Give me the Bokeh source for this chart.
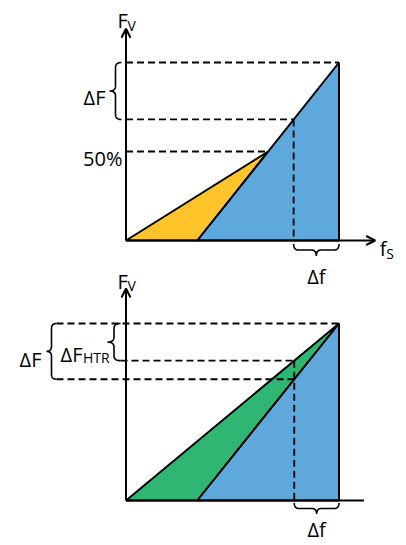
import numpy as np
from bokeh.plotting import figure
from bokeh.models import Range1d, Arrow, OpenHead
from bokeh.core.properties import value
from bokeh.embed import file_html
from bokeh.resources import INLINE

# ---------------- data ----------------
# Panel A (top): f_S in % of its maximum, F_V in %
a_yellow_x = [0, 66.75, 33.5]
a_yellow_y = [0, 50, 0]
a_blue_x = [33.5, 100, 100]
a_blue_y = [0, 100, 0]
a_levels = [100, 68, 50]          # top, lower ΔF bound, 50 %
a_level_ends = [100, 78.7, 66.75]  # where each dashed level meets the curve
a_df_x = [78.7, 100]               # Δf span
a_axis_end = [117, 119]            # x-axis end, y-axis end

# Panel B (bottom)
b_green_x = [0, 100, 33.5]
b_green_y = [0, 100, 0]
b_blue_x = [33.5, 100, 100]
b_blue_y = [0, 100, 0]
b_levels = [100, 79, 68.5]         # top, ΔF_HTR bound, ΔF bound
b_level_ends = [100, 79, 79]
b_df_x = [79, 100]
b_axis_end = [111.7, 119.8]

labels_a = ["F", "V", "ΔF", "50%", "f", "S", "Δf"]
labels_b = ["F", "V", "ΔF", "ΔF", "HTR", "Δf"]

# ---------------- layout ----------------
W, H = 406, 545
KX, X0 = 2.13, 125.5
KA, YA0 = 1.78, 305
KB, YB0 = 1.77, 45

YELLOW = "#FFC42A"
BLUE = "#5FA8DB"
GREEN = "#2EB672"
FONT = value("Open Sans")
DASH = "7 4"
BIG, SMALL = "20px", "14px"

p = figure(width=W, height=H, output_backend="svg", toolbar_location=None,
           x_range=Range1d(-X0 / KX, (W - X0) / KX),
           y_range=Range1d(-YA0 / KA, (H - YA0) / KA),
           x_axis_location=None, y_axis_location=None, min_border=0)
p.extra_y_ranges = {"b": Range1d(-YB0 / KB, (H - YB0) / KB)}
p.grid.visible = False
p.outline_line_color = None
p.background_fill_color = "white"
p.border_fill_color = "white"


def dx(px):
    return px / KX


def dya(px):
    return px / KA


def dyb(px):
    return px / KB


def brace_local(L, d, r=5.0, n=14):
    r = min(r, L / 4.0)
    t = np.linspace(0, 1, n)

    def q(p0, c, p1):
        u = (1 - t) ** 2 * p0[0] + 2 * (1 - t) * t * c[0] + t ** 2 * p1[0]
        v = (1 - t) ** 2 * p0[1] + 2 * (1 - t) * t * c[1] + t ** 2 * p1[1]
        return list(u), list(v)

    h = d / 2.0
    segs = [
        q((0, 0), (0, h), (r, h)),
        q((L / 2 - r, h), (L / 2, h), (L / 2, d)),
        q((L / 2, d), (L / 2, h), (L / 2 + r, h)),
        q((L - r, h), (L, h), (L, 0)),
    ]
    us, vs = [], []
    for s in segs:
        us += s[0]
        vs += s[1]
    return np.array(us), np.array(vs)


def vbrace(x_end, y_top, y_bot, d, ky, rname):
    L = (y_top - y_bot) * ky
    u, v = brace_local(L, d)
    p.line(x_end - v / KX, y_top - u / ky, line_color="black", line_width=1.6,
           y_range_name=rname)


def hbrace(x1, x2, off, d, ky, rname):
    L = (x2 - x1) * KX
    u, v = brace_local(L, d)
    p.line(x1 + u / KX, -(off + v) / ky, line_color="black", line_width=1.6,
           y_range_name=rname)


def txt(x, y, s, size, align, rname="default"):
    p.text(x=[x], y=[y], text=[s], text_font=FONT, text_font_size=size,
           text_align=align, text_baseline="alphabetic", text_color="black",
           y_range_name=rname)


# ================= Panel A =================
p.patch(a_yellow_x, a_yellow_y, fill_color=YELLOW, line_color="black", line_width=2)
p.patch(a_blue_x, a_blue_y, fill_color=BLUE, line_color="black", line_width=2)
for lvl, xe in zip(a_levels, a_level_ends):
    p.line([0, xe], [lvl, lvl], line_color="black", line_width=1.8, line_dash=DASH)
p.line([a_df_x[0], a_df_x[0]], [a_levels[1], 0], line_color="black", line_width=1.8,
       line_dash=DASH)
p.add_layout(Arrow(end=OpenHead(size=9, line_width=2), x_start=0, y_start=0,
                   x_end=0, y_end=a_axis_end[1], line_width=2))
p.add_layout(Arrow(end=OpenHead(size=9, line_width=2), x_start=0, y_start=0,
                   x_end=a_axis_end[0], y_end=0, line_width=2))

vbrace(dx(-4.5), a_levels[0], a_levels[1], 12, KA, "default")
hbrace(a_df_x[0], a_df_x[1], 3.5, 12, KA, "default")

txt(dx(-8.5), a_axis_end[1] + dya(8), labels_a[0], BIG, "left")
txt(dx(1.5), a_axis_end[1] + dya(3), labels_a[1], SMALL, "left")
txt(dx(-20.5), (a_levels[0] + a_levels[1]) / 2 - dya(7), labels_a[2], BIG, "right")
txt(dx(-3.5), a_levels[2] - dya(7), labels_a[3], BIG, "right")
txt(a_axis_end[0] + dx(4.5), -dya(8), labels_a[4], BIG, "left")
txt(a_axis_end[0] + dx(11), -dya(12.5), labels_a[5], SMALL, "left")
txt(sum(a_df_x) / 2, -dya(36), labels_a[6], BIG, "center")

# ================= Panel B =================
R = "b"
p.patch(b_green_x, b_green_y, fill_color=GREEN, line_color="black", line_width=2,
        y_range_name=R)
p.patch(b_blue_x, b_blue_y, fill_color=BLUE, line_color="black", line_width=2,
        y_range_name=R)
b_outer_end = dx(-69.5)
b_htr_end = dx(-5.5)
b_level_starts = [b_outer_end, b_htr_end, b_outer_end]
for lvl, xs, xe in zip(b_levels, b_level_starts, b_level_ends):
    p.line([xs, xe], [lvl, lvl], line_color="black", line_width=1.8, line_dash=DASH,
           y_range_name=R)
p.line([b_df_x[0], b_df_x[0]], [b_levels[1], 0], line_color="black", line_width=1.8,
       line_dash=DASH, y_range_name=R)
p.add_layout(Arrow(end=OpenHead(size=9, line_width=2), x_start=0, y_start=0,
                   x_end=0, y_end=b_axis_end[1], line_width=2, y_range_name=R))
p.line([0, b_axis_end[0]], [0, 0], line_color="black", line_width=2, y_range_name=R)

vbrace(b_outer_end, b_levels[0], b_levels[2], 10, KB, R)
vbrace(b_htr_end, b_levels[0], b_levels[1], 13, KB, R)
hbrace(b_df_x[0], b_df_x[1], 2.5, 11, KB, R)

txt(dx(-8.5), b_axis_end[1] + dyb(7), labels_b[0], BIG, "left", R)
txt(dx(1.5), b_axis_end[1] + dyb(2.5), labels_b[1], SMALL, "left", R)
mid_o = (b_levels[0] + b_levels[2]) / 2
txt(dx(-84.5), mid_o - dyb(8.5), labels_b[2], BIG, "right", R)
mid_h = (b_levels[0] + b_levels[1]) / 2
txt(dx(-43.5), mid_h - dyb(12.5), labels_b[3], BIG, "right", R)
txt(dx(-43), mid_h - dyb(15.5), labels_b[4], SMALL, "left", R)
txt(sum(b_df_x) / 2, -dyb(29), labels_b[5], BIG, "center", R)

open("out.html", "w").write(file_html(p, INLINE))
